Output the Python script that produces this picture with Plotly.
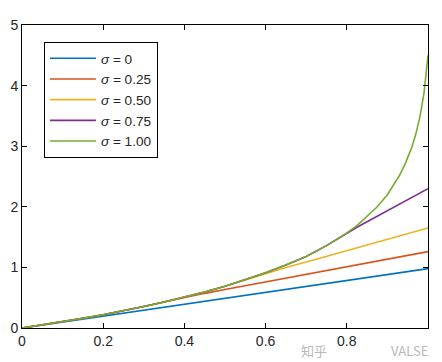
import plotly.graph_objects as go

# x positions
x_vals = [0, 0.05, 0.1, 0.15, 0.2, 0.25, 0.3, 0.35, 0.4, 0.45, 0.5, 0.55, 0.6, 0.65,
          0.7, 0.75, 0.8, 0.825, 0.85, 0.875, 0.9, 0.915, 0.93, 0.945, 0.96, 0.97, 0.98, 0.99, 1.0]

# series values
s_000 = [0, 0.049, 0.098, 0.147, 0.196, 0.245, 0.294, 0.343, 0.392, 0.441, 0.49, 0.539, 0.588, 0.637,
         0.686, 0.735, 0.784, 0.809, 0.833, 0.858, 0.882, 0.897, 0.911, 0.926, 0.941, 0.951, 0.96, 0.97, 0.98]
s_025 = [0, 0.051, 0.105, 0.162, 0.22, 0.285, 0.355, 0.43, 0.505, 0.572, 0.635, 0.698, 0.76, 0.822,
         0.885, 0.947, 1.01, 1.041, 1.072, 1.103, 1.135, 1.153, 1.172, 1.191, 1.21, 1.222, 1.235, 1.247, 1.26]
s_050 = [0, 0.051, 0.105, 0.162, 0.22, 0.285, 0.355, 0.43, 0.51, 0.595, 0.69, 0.795, 0.905, 0.998,
         1.09, 1.182, 1.275, 1.321, 1.368, 1.414, 1.46, 1.488, 1.515, 1.543, 1.571, 1.59, 1.61, 1.63, 1.65]
s_075 = [0, 0.051, 0.105, 0.162, 0.22, 0.285, 0.355, 0.43, 0.51, 0.595, 0.69, 0.795, 0.91, 1.04,
         1.18, 1.36, 1.57, 1.663, 1.752, 1.843, 1.935, 1.989, 2.043, 2.097, 2.15, 2.185, 2.225, 2.26, 2.3]
s_100 = [0, 0.051, 0.105, 0.162, 0.22, 0.285, 0.355, 0.43, 0.51, 0.595, 0.69, 0.795, 0.91, 1.04,
         1.18, 1.36, 1.57, 1.69, 1.84, 2.0, 2.2, 2.35, 2.52, 2.73, 2.98, 3.2, 3.48, 3.87, 4.5]

labels = ["<i>σ</i> = 0", "<i>σ</i> = 0.25", "<i>σ</i> = 0.50", "<i>σ</i> = 0.75", "<i>σ</i> = 1.00"]
series = [s_000, s_025, s_050, s_075, s_100]
colors = ["#0072BD", "#D95319", "#EDB120", "#7E2F8E", "#77AC30"]

x_ticks = [0, 0.2, 0.4, 0.6, 0.8, 1.0]
x_ticktext = ["0", "0.2", "0.4", "0.6", "0.8", ""]
y_ticks = [0, 1, 2, 3, 4, 5]

fig = go.Figure()
for lab, ys, c in zip(labels, series, colors):
    fig.add_trace(go.Scatter(x=x_vals, y=ys, mode="lines", name=lab,
                             line=dict(color=c, width=1.6, shape="linear")))

axis_common = dict(showline=True, linecolor="black", linewidth=1, mirror="ticks",
                   ticks="inside", ticklen=5, tickcolor="black", showgrid=False,
                   zeroline=False, automargin=False,
                   tickfont=dict(family="Liberation Sans, Arial", size=14, color="#262626"))

# page body adds an 8px offset, so the figure is sized/margined to compensate
fig.update_layout(
    width=434, height=354,
    margin=dict(l=14, r=14, t=17, b=34),
    paper_bgcolor="white", plot_bgcolor="white",
    font=dict(family="Liberation Sans, Arial", size=14, color="#262626"),
    xaxis=dict(range=[0, 1], tickvals=x_ticks, ticktext=x_ticktext, **axis_common),
    yaxis=dict(range=[0, 5], tickvals=y_ticks, **axis_common),
    legend=dict(x=0.054, y=0.944, xanchor="left", yanchor="top",
                bgcolor="white", bordercolor="black", borderwidth=1,
                font=dict(size=13.6, color="#262626"), itemwidth=46,
                tracegroupgap=0),
    showlegend=True,
)

wm_font = dict(family="Noto Sans CJK SC", size=13, color="#b8b8b8")
fig.add_annotation(text="知乎", xref="paper", yref="paper", x=0.755, y=-0.075,
                   xanchor="right", yanchor="middle", showarrow=False, font=wm_font)
fig.add_annotation(text="VALSE", xref="paper", yref="paper", x=1.005, y=-0.075,
                   xanchor="right", yanchor="middle", showarrow=False, font=wm_font)

fig.write_html("out.html")
